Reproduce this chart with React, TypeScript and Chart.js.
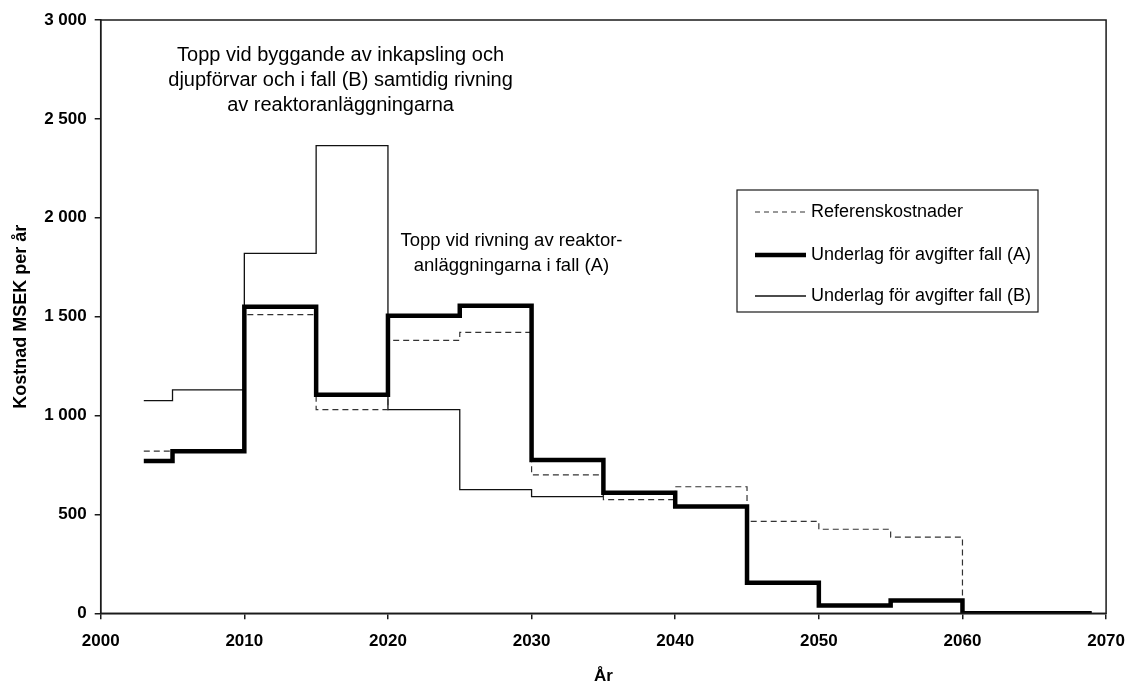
import React, { useEffect, useRef } from 'react';
import { Chart, registerables } from 'chart.js';

Chart.register(...registerables);

// ---- Data (period start years; last point closes the final step) ----
const years = [2003, 2005, 2010, 2015, 2020, 2025, 2030, 2035, 2040, 2045, 2050, 2055, 2060, 2069];
const referensValues = [820, 820, 1510, 1030, 1380, 1420, 700, 575, 640, 465, 425, 385, 0, 0];
const fallAValues = [770, 820, 1550, 1105, 1505, 1555, 775, 610, 540, 155, 40, 65, 0, 0];
const fallBValues = [1075, 1130, 1820, 2365, 1030, 625, 590, 610, 540, 155, 40, 65, 0, 0];

const seriesLabels = [
  'Referenskostnader',
  'Underlag för avgifter fall (A)',
  'Underlag för avgifter fall (B)',
];

const xTickYears = [2000, 2010, 2020, 2030, 2040, 2050, 2060, 2070];
const yTickValues = [0, 500, 1000, 1500, 2000, 2500, 3000];

const yAxisTitle = 'Kostnad MSEK per år';
const xAxisTitle = 'År';

const annotationB = [
  'Topp vid byggande av inkapsling och',
  'djupförvar och i fall (B) samtidig rivning',
  'av reaktoranläggningarna',
];
const annotationBAnchor = { x: 2016.7, y: 2820 };
const annotationA = ['Topp vid rivning av reaktor-', 'anläggningarna i fall (A)'];
const annotationAAnchor = { x: 2028.6, y: 1885 };

const FONT = '"Liberation Sans", Arial, Helvetica, sans-serif';
const INK = '#1a1a1a';

function fmtThousands(v: number): string {
  return String(v).replace(/\B(?=(\d{3})+(?!\d))/g, ' ');
}

const overlayPlugin = {
  id: 'overlay',
  afterDraw(chart: any) {
    const { ctx, chartArea, scales } = chart;
    ctx.save();
    // plot frame
    ctx.strokeStyle = INK;
    ctx.lineWidth = 1.5;
    ctx.strokeRect(chartArea.left, chartArea.top, chartArea.right - chartArea.left, chartArea.bottom - chartArea.top);

    // annotations
    ctx.fillStyle = '#000';
    ctx.textAlign = 'center';
    ctx.textBaseline = 'middle';
    ctx.font = `20px ${FONT}`;
    const bx = scales.x.getPixelForValue(annotationBAnchor.x);
    const by = scales.y.getPixelForValue(annotationBAnchor.y);
    annotationB.forEach((t, i) => ctx.fillText(t, bx, by + i * 25));
    ctx.font = `18.5px ${FONT}`;
    const ax = scales.x.getPixelForValue(annotationAAnchor.x);
    const ay = scales.y.getPixelForValue(annotationAAnchor.y);
    annotationA.forEach((t, i) => ctx.fillText(t, ax, ay + i * 25));

    // legend box
    const lx = 737, ly = 190, lw = 301, lh = 122;
    ctx.fillStyle = '#fff';
    ctx.fillRect(lx, ly, lw, lh);
    ctx.strokeStyle = INK;
    ctx.lineWidth = 1.2;
    ctx.strokeRect(lx, ly, lw, lh);
    const rowY = [212, 255, 296];
    ctx.textAlign = 'left';
    ctx.font = `18px ${FONT}`;
    chart.data.datasets.forEach((ds: any, i: number) => {
      const y = rowY[i];
      ctx.save();
      ctx.strokeStyle = ds.borderColor;
      ctx.lineWidth = ds.borderWidth;
      ctx.setLineDash(ds.borderDash ? [5, 4] : []);
      ctx.beginPath();
      ctx.moveTo(lx + 18, y);
      ctx.lineTo(lx + 69, y);
      ctx.stroke();
      ctx.restore();
      ctx.fillStyle = '#000';
      ctx.fillText(ds.label, lx + 74, y);
    });
    ctx.restore();
  },
};

export default function App() {
  const canvasRef = useRef<HTMLCanvasElement | null>(null);

  useEffect(() => {
    if (!canvasRef.current) return;
    const mk = (vals: number[]) => years.map((x, i) => ({ x, y: vals[i] }));
    const chart = new Chart(canvasRef.current, {
      type: 'line',
      data: {
        datasets: [
          {
            label: seriesLabels[0],
            data: mk(referensValues),
            borderColor: '#333',
            borderWidth: 1.2,
            borderDash: [6, 4],
            stepped: 'before',
            pointRadius: 0,
            fill: false,
            order: 1,
          },
          {
            label: seriesLabels[1],
            data: mk(fallAValues),
            borderColor: '#000',
            borderWidth: 4.5,
            stepped: 'before',
            pointRadius: 0,
            fill: false,
            order: 0,
          },
          {
            label: seriesLabels[2],
            data: mk(fallBValues),
            borderColor: '#111',
            borderWidth: 1.3,
            stepped: 'before',
            pointRadius: 0,
            fill: false,
            order: 2,
          },
        ] as any,
      },
      options: {
        responsive: false,
        animation: false,
        layout: { padding: { top: 20, right: 29, left: 0, bottom: 0 } },
        elements: { line: { borderJoinStyle: 'miter', borderCapStyle: 'butt' } as any },
        plugins: { legend: { display: false }, tooltip: { enabled: false } },
        scales: {
          x: {
            type: 'linear',
            min: xTickYears[0],
            max: xTickYears[xTickYears.length - 1],
            afterBuildTicks: (s: any) => {
              s.ticks = xTickYears.map((v) => ({ value: v }));
            },
            ticks: {
              callback: (v: any) => String(v),
              color: '#000',
              font: { family: FONT, size: 17, weight: 'bold' },
              padding: 12,
              maxRotation: 0,
              autoSkip: false,
            },
            grid: { drawOnChartArea: false, tickLength: 6, color: INK, lineWidth: 1.5 },
            border: { color: INK, width: 1.5 },
            title: {
              display: true,
              text: xAxisTitle,
              color: '#000',
              font: { family: FONT, size: 17, weight: 'bold' },
              padding: { top: 4, bottom: 0 },
            },
            afterFit: (s: any) => {
              s.height = 73.7;
            },
          },
          y: {
            type: 'linear',
            min: yTickValues[0],
            max: yTickValues[yTickValues.length - 1],
            afterBuildTicks: (s: any) => {
              s.ticks = yTickValues.map((v) => ({ value: v }));
            },
            ticks: {
              callback: (v: any) => fmtThousands(Number(v)),
              color: '#000',
              font: { family: FONT, size: 17, weight: 'bold' },
              padding: 8,
            },
            grid: { drawOnChartArea: false, tickLength: 6, color: INK, lineWidth: 1.5 },
            border: { color: INK, width: 1.5 },
            title: {
              display: true,
              text: yAxisTitle,
              color: '#000',
              font: { family: FONT, size: 18, weight: 'bold' },
              padding: { top: 10, bottom: 4 },
            },
            afterFit: (s: any) => {
              s.width = 100.7;
            },
          },
        },
      } as any,
      plugins: [overlayPlugin],
    });
    return () => chart.destroy();
  }, []);

  return (
    <div style={{ position: 'fixed', left: 0, top: 0, width: 1137, height: 687, background: '#fff' }}>
      <canvas ref={canvasRef} width={1137} height={687} />
    </div>
  );
}
